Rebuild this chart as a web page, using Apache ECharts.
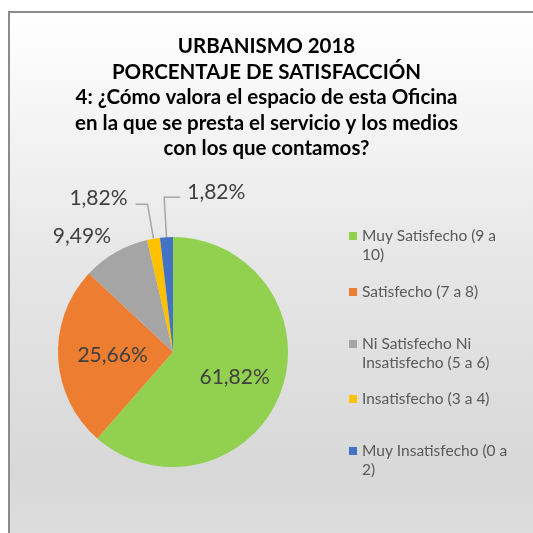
<!DOCTYPE html>
<html>
<head>
<meta charset="utf-8">
<script src="https://cdn.jsdelivr.net/npm/echarts@6/dist/echarts.min.js"></script>
<style>
	body { margin: 0; }
	#frame {
		position: absolute; left: 8px; top: 11px; width: 560px; height: 560px;
		border: 2px solid #8c8c8c;
		background: linear-gradient(to bottom, #ffffff 0%, #e6e6e6 45%, #d8d8d8 82%, #e0e0e0 100%);
	}
	#chart { position: absolute; left: 0; top: 0; width: 533px; height: 533px; }
</style>
</head>
<body>
<div id="frame"></div>
<div id="chart"></div>
<script>
"use strict";

/*****Data start*****/
var categories = [
	'Muy Satisfecho (9 a 10)',
	'Satisfecho (7 a 8)',
	'Ni Satisfecho Ni Insatisfecho (5 a 6)',
	'Insatisfecho (3 a 4)',
	'Muy Insatisfecho (0 a 2)'
];
var legendLines = [
	'Muy Satisfecho (9 a\n10)',
	'Satisfecho (7 a 8)',
	'Ni Satisfecho Ni\nInsatisfecho (5 a 6)',
	'Insatisfecho (3 a 4)',
	'Muy Insatisfecho (0 a\n2)'
];
var percentages = [61.82, 25.66, 9.49, 1.82, 1.82];
var colors = ['#92d050', '#ed7d31', '#a5a5a5', '#ffc000', '#4472c4'];
var titleText = 'URBANISMO 2018\nPORCENTAJE DE SATISFACCIÓN\n4: ¿Cómo valora el espacio de esta Oficina\nen la que se presta el servicio y los medios\ncon los que contamos?';
/*****Data end*****/

var legendTops = [207.5, 282.5, 315.5, 389.5, 422.5];

var fmt = function (v) {
	return v.toFixed(2).replace('.', ',') + '%';
};

/*****Legends*****/
// two-line entries get an empty leading line so the square sits on the first line
var legends = categories.map(function (name, i) {
	var txt = legendLines[i];
	if (txt.indexOf('\n') >= 0) txt = '\n' + txt;
	return {
		data: [name],
		left: 349,
		top: legendTops[i],
		padding: 0,
		itemWidth: 8,
		itemHeight: 8,
		icon: 'rect',
		selectedMode: false,
		formatter: function () { return txt; },
		textStyle: {
			color: '#595959',
			fontFamily: 'Lato',
			fontSize: 15.5,
			lineHeight: 19
		}
	};
});

/*****Pie data*****/
var labelCfg = [
	{ position: 'inside' },
	{ position: 'inside' },
	{ position: 'outside', line: false, length: 19, length2: 0 },
	{ position: 'outside', line: true, length: 35, length2: 12 },
	{ position: 'outside', line: true, length: 40, length2: 16 }
];

var pieData = categories.map(function (name, i) {
	var c = labelCfg[i];
	var item = {
		name: name,
		value: percentages[i],
		itemStyle: { color: colors[i] },
		label: { position: c.position }
	};
	if (c.position === 'outside') {
		item.labelLine = {
			show: c.line,
			length: c.length,
			length2: c.length2,
			lineStyle: { color: '#a6a6a6', width: 1.5 }
		};
	}
	return item;
});

var chart = echarts.init(document.getElementById('chart'));
chart.setOption({
	backgroundColor: 'transparent',
	title: {
		text: titleText,
		left: 'center',
		top: 34,
		padding: 0,
		textStyle: {
			color: '#000000',
			fontFamily: 'Lato',
			fontWeight: 'bold',
			fontSize: 20.5,
			lineHeight: 25.5
		}
	},
	legend: legends,
	series: [{
		type: 'pie',
		center: [173, 352],
		radius: 115,
		startAngle: 90,
		avoidLabelOverlap: false,
		animation: false,
		data: pieData,
		label: {
			formatter: function (p) { return fmt(p.value); },
			color: '#404040',
			fontFamily: 'Lato',
			fontSize: 21,
			distanceToLabelLine: 4
		},
		labelLayout: function (p) {
			// the blue slice label sits on the right of its leader line
			if (p.dataIndex === 4 && p.labelLinePoints) {
				var pts = p.labelLinePoints;
				var len2 = pts[1][0] - pts[2][0];
				var end = [pts[1][0] + len2, pts[1][1]];
				return {
					x: end[0] + 7,
					y: end[1] - 5,
					align: 'left',
					verticalAlign: 'middle',
					labelLinePoints: [pts[0], pts[1], end]
				};
			}
			if (p.dataIndex === 3) {
				return { dx: -4, dy: -6 };
			}
			if (p.dataIndex === 2) {
				return { dx: 9 };
			}
			if (p.dataIndex === 0) {
				return { dx: 5, dy: 4 };
			}
		}
	}]
});
</script>
</body>
</html>
